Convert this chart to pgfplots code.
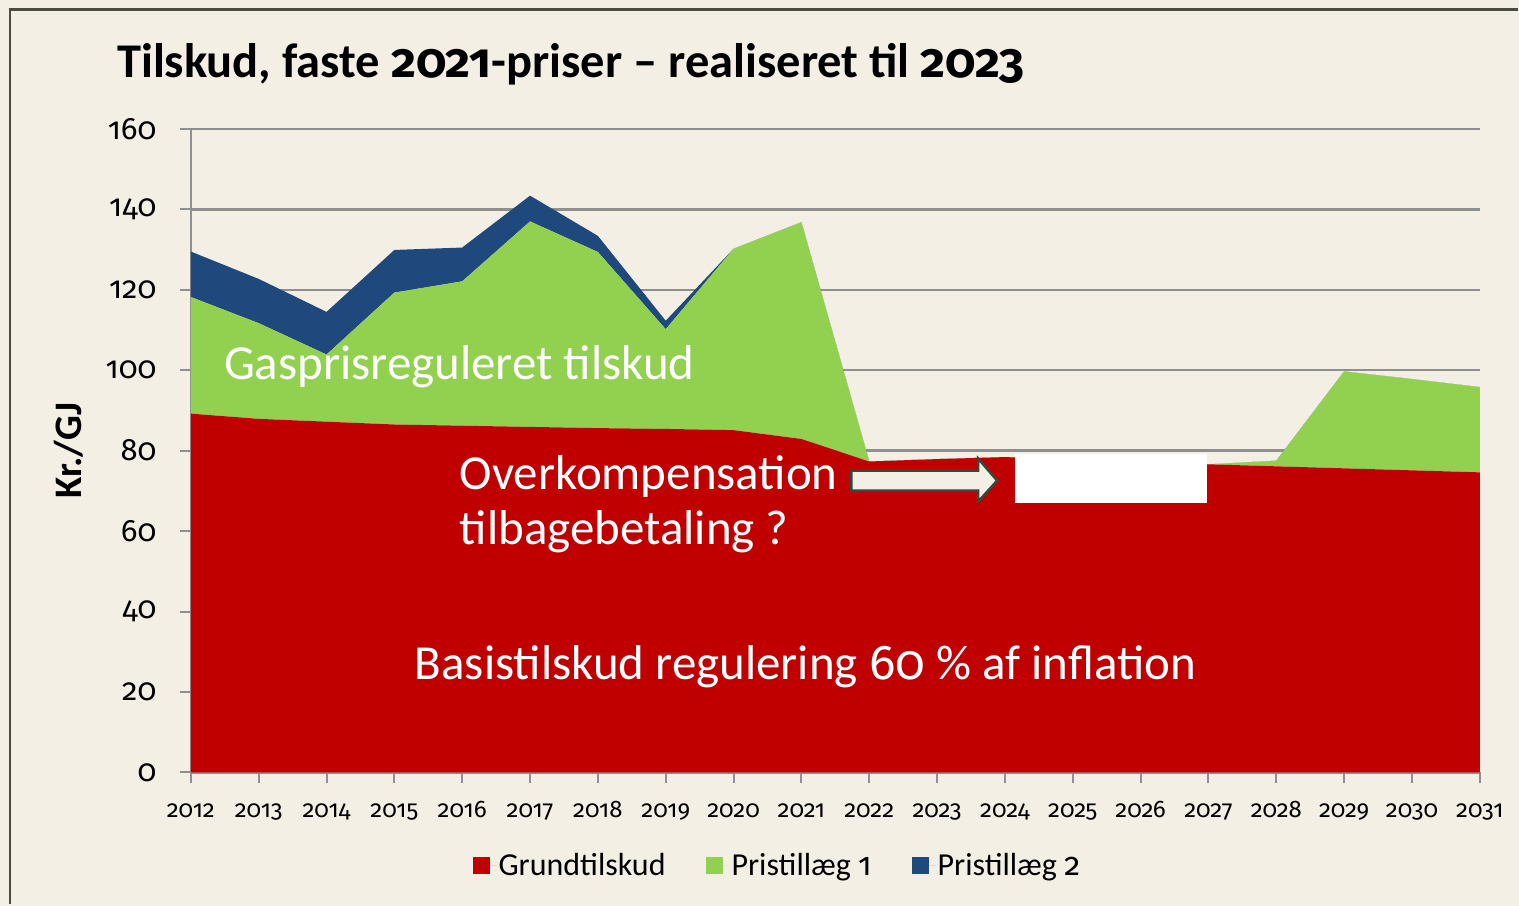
\documentclass[border=0pt]{standalone}
\usepackage{pgfplots}
\pgfplotsset{compat=1.18}
\usepackage{fontspec}
\setmainfont{Carlito}
\newfontfamily\numfont{Fira Sans}[Numbers=OldStyle]
\definecolor{bg}{HTML}{F3EFE5}
\definecolor{cred}{HTML}{C00000}
\definecolor{cgreen}{HTML}{92D050}
\definecolor{cblue}{HTML}{1F497D}
\definecolor{gridc}{HTML}{8F8F8F}
\definecolor{framec}{HTML}{4B4B42}
\definecolor{arrowc}{HTML}{35493A}
\pagecolor{bg}
\begin{document}
\begin{tikzpicture}[x=1bp,y=1bp]
\path (0,0) rectangle (1519,-905);
\draw[framec, line width=2.5bp] (10,-905) -- (10,-9.5) -- (1519,-9.5);
\node[anchor=base west, font=\fontsize{48.5bp}{54bp}\selectfont\bfseries, inner sep=0] at (117,-78) {Tilskud, faste {\numfont 2021}-priser – realiseret til {\numfont 2023}};
\node[rotate=90, font=\fontsize{39bp}{44bp}\selectfont\bfseries, inner sep=0] at (69,-451) {Kr./GJ};
\begin{axis}[
  at={(191bp,-773bp)}, anchor=south west,
  scale only axis, width=1290bp, height=644bp,
  xmin=0, xmax=19, ymin=0, ymax=160,
  ytick={0,20,...,160},
  xtick={0,...,19},
  xticklabels={2012,2013,2014,2015,2016,2017,2018,2019,2020,2021,2022,2023,2024,2025,2026,2027,2028,2029,2030,2031},
  /pgf/number format/assume math mode=true,
  stack plots=y,
  area style,
  axis on top=false,
  axis lines*=left,
  axis line style={gridc, line width=2.5bp},
  ymajorgrids, grid style={gridc, line width=2.5bp},
  tick style={gridc, line width=2bp},
  major tick length=11bp,
  tick align=outside,
  yticklabel style={font=\numfont\fontsize{31bp}{36bp}\selectfont, xshift=-20bp},
  xticklabel style={font=\numfont\fontsize{24bp}{28bp}\selectfont, text height=17bp, text depth=6bp, yshift=-14bp},
  legend style={at={(0.455,-0.144)}, anchor=center, draw=none, fill=none,
    font=\fontsize{32bp}{36bp}\selectfont,
    /tikz/every even column/.append style={column sep=38bp}},
  legend columns=3,
  legend image code/.code={\fill[#1] (0bp,-8.5bp) rectangle (17bp,8.5bp); \path (17bp,0) -- (24bp,0);},
]
\addplot[fill=cred, draw=none] coordinates {
 (0,89.2) (1,87.9) (2,87.2) (3,86.5) (4,86.2) (5,85.9) (6,85.6) (7,85.4) (8,85.1) (9,82.9)
 (10,77.3) (11,77.9) (12,78.4) (13,77.8) (14,77.2) (15,76.6) (16,76.1) (17,75.6) (18,75.1) (19,74.6)} \closedcycle;
\addlegendentry{Grundtilskud}
\addplot[fill=cgreen, draw=none] coordinates {
 (0,29.0) (1,23.8) (2,16.7) (3,32.8) (4,35.9) (5,51.1) (6,43.8) (7,24.8) (8,45.1) (9,53.9)
 (10,0) (11,0) (12,0) (13,0) (14,0) (15,0) (16,1.4) (17,24.1) (18,22.7) (19,21.2)} \closedcycle;
\addlegendentry{Pristillæg {\numfont 1}}
\addplot[fill=cblue, draw=none] coordinates {
 (0,11.3) (1,11.0) (2,10.6) (3,10.6) (4,8.4) (5,6.4) (6,4.0) (7,2.1) (8,0) (9,0)
 (10,0) (11,0) (12,0) (13,0) (14,0) (15,0) (16,0) (17,0) (18,0) (19,0)} \closedcycle;
\addlegendentry{Pristillæg {\numfont 2}}
\end{axis}
\fill[white] (1016,-454) rectangle (1208,-503);
\draw[arrowc, fill=bg, line width=2.5bp, line join=miter]
  (852,-471) -- (979,-471) -- (979,-459) -- (998,-481) -- (979,-502) -- (979,-491) -- (852,-491) -- cycle;
\begin{scope}[every node/.style={text=white, inner sep=0, anchor=base west, font=\fontsize{49bp}{54bp}\selectfont}]
\node at (224,-380) {Gasprisreguleret tilskud};
\node at (460,-490) {Overkompensation};
\node at (460,-545) {tilbagebetaling ?};
\node at (415,-680) {Basistilskud regulering {\numfont 60} \% af inflation};
\end{scope}
\end{tikzpicture}
\end{document}
